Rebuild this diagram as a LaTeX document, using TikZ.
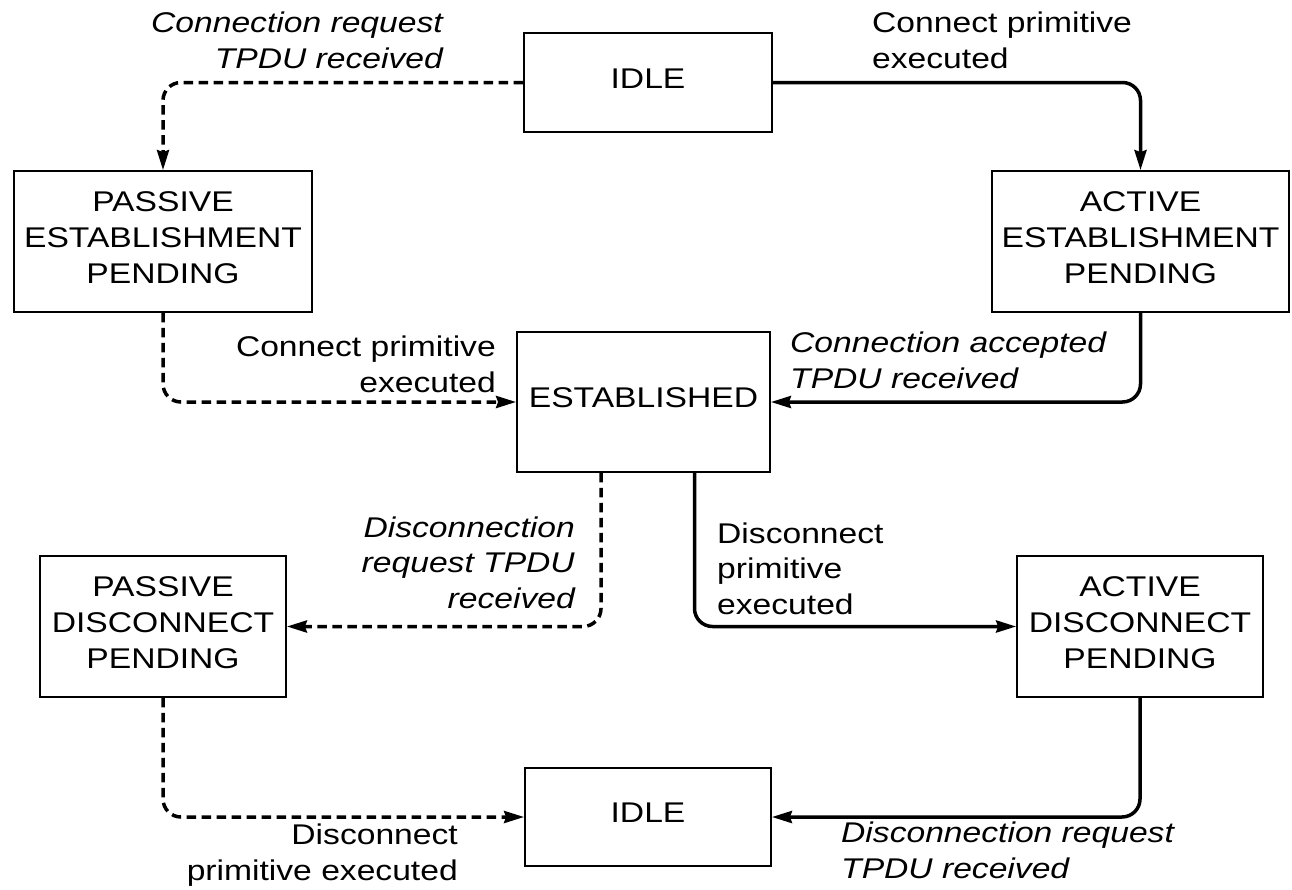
\documentclass[tikz,border=0pt]{standalone}
\usepackage{fontspec}
\setmainfont{Liberation Sans}[FakeStretch=1.18]
\usetikzlibrary{arrows.meta}

\tikzset{
  state/.style={draw, line width=1.8pt, inner sep=0pt, align=center,
    text depth=8pt, font=\fontsize{28.5pt}{35.8pt}\selectfont},
  lbl/.style={inner sep=0pt, font=\fontsize{28.5pt}{35.3pt}\selectfont},
  ilbl/.style={lbl, font=\fontsize{28.5pt}{35.3pt}\selectfont\itshape},
  conn/.style={line width=3.5pt, rounded corners=18pt,
    -{Stealth[length=20pt,width=12pt,inset=2pt]}},
  dconn/.style={conn, dash pattern=on 9.5pt off 5.5pt},
}

\begin{document}
\begin{tikzpicture}[x=1pt, y=-1pt]
\useasboundingbox (0,0) rectangle (1292,889);

% states
\node[state, minimum width=248pt, minimum height=99pt]  (idleA) at (648,82.5)   {IDLE};
\node[state, minimum width=298pt, minimum height=141pt] (pest)  at (163,241.5)  {PASSIVE\\ESTABLISHMENT\\PENDING};
\node[state, minimum width=297pt, minimum height=141pt] (aest)  at (1140.5,241.5) {ACTIVE\\ESTABLISHMENT\\PENDING};
\node[state, minimum width=253pt, minimum height=140pt] (est)   at (643.5,402)  {ESTABLISHED};
\node[state, minimum width=246pt, minimum height=141pt] (pdis)  at (163,626.5)  {PASSIVE\\DISCONNECT\\PENDING};
\node[state, minimum width=246pt, minimum height=141pt] (adis)  at (1140,626.5) {ACTIVE\\DISCONNECT\\PENDING};
\node[state, minimum width=246pt, minimum height=98pt]  (idleB) at (648,817)    {IDLE};

% transitions
\draw[dconn] (idleA.west) -| (pest.north);
\draw[conn]  (idleA.east) -| (aest.north);
\draw[dconn] (pest.south) |- (est.west);
\draw[conn]  (aest.south) |- (est.east);
\draw[dconn] ([xshift=-42.5pt]est.south) |- (pdis.east);
\draw[conn]  ([xshift=51pt]est.south) |- (adis.west);
\draw[dconn] (pdis.south) |- (idleB.west);
\draw[conn]  (adis.south) |- (idleB.east);

% transition labels (anchored on the baseline of the last line)
\node[ilbl, anchor=base east, align=right] (l1) at (443,68)  {Connection request\\TPDU received};
\node[lbl,  anchor=base west, align=left]  (l2) at (872,68)  {Connect primitive\\executed};
\node[lbl,  anchor=base east, align=right] (l3) at (496,392) {Connect primitive\\executed};
\node[ilbl, anchor=base west, align=left]  (l4) at (790,388) {Connection accepted\\TPDU received};
\node[ilbl, anchor=base east, align=right] (l5) at (575,608) {Disconnection\\request TPDU\\received};
\node[lbl,  anchor=base west, align=left]  (l6) at (717,614) {Disconnect\\primitive\\executed};
\node[lbl,  anchor=base east, align=right] (l7) at (458,880) {Disconnect\\primitive executed};
\node[ilbl, anchor=base west, align=left]  (l8) at (841,878) {Disconnection request\\TPDU received};
\end{tikzpicture}
\end{document}
